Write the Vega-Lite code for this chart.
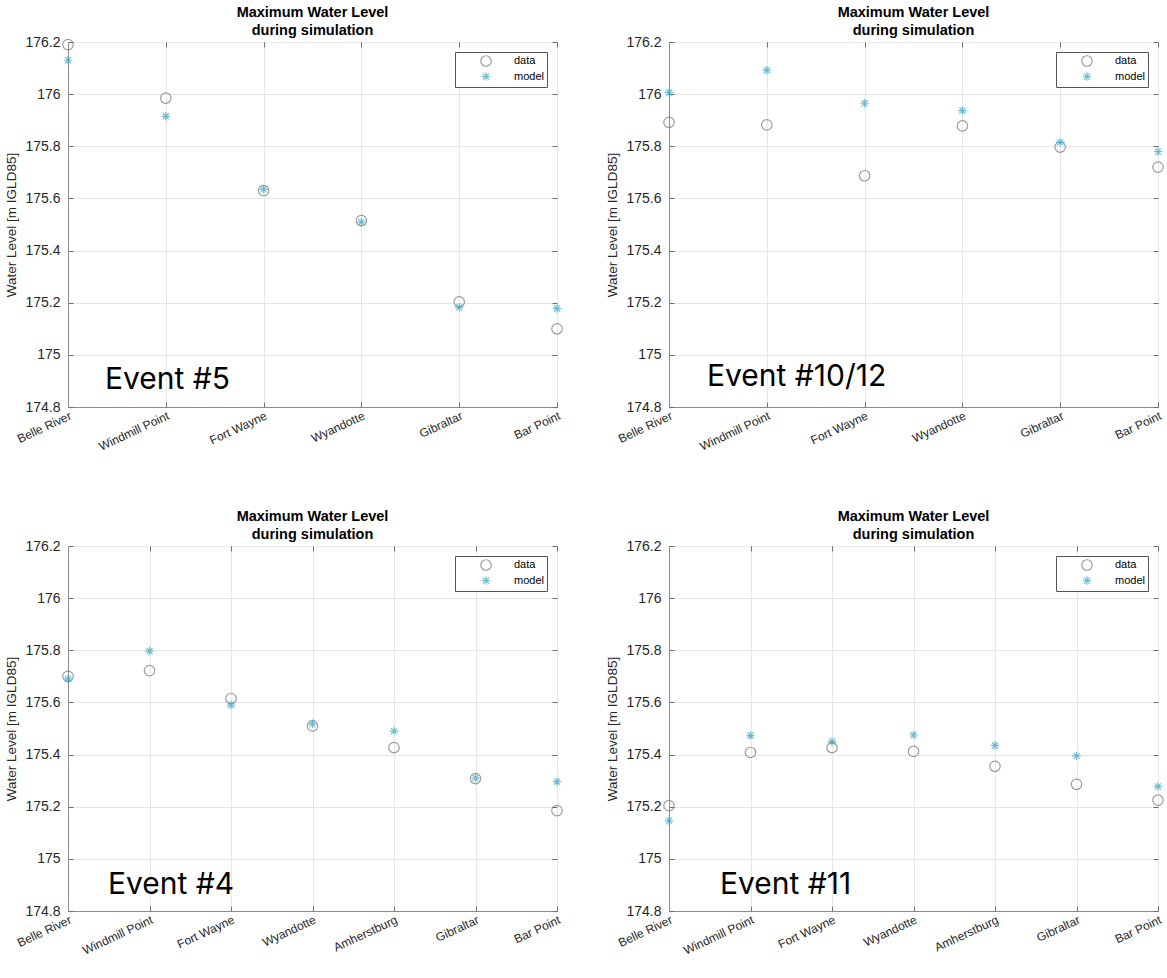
{
  "$schema": "https://vega.github.io/schema/vega-lite/v6.json",
  "padding": {"left": 4, "top": 4, "right": 2, "bottom": 2},
  "background": "white",
  "datasets": {
    "levels": [
      {"event": "5", "station": "Belle River", "series": "data", "level": 176.19},
      {"event": "5", "station": "Windmill Point", "series": "data", "level": 175.985},
      {"event": "5", "station": "Fort Wayne", "series": "data", "level": 175.63},
      {"event": "5", "station": "Wyandotte", "series": "data", "level": 175.515},
      {"event": "5", "station": "Gibraltar", "series": "data", "level": 175.203},
      {"event": "5", "station": "Bar Point", "series": "data", "level": 175.1},
      {"event": "5", "station": "Belle River", "series": "model", "level": 176.13},
      {"event": "5", "station": "Windmill Point", "series": "model", "level": 175.915},
      {"event": "5", "station": "Fort Wayne", "series": "model", "level": 175.635},
      {"event": "5", "station": "Wyandotte", "series": "model", "level": 175.51},
      {"event": "5", "station": "Gibraltar", "series": "model", "level": 175.183},
      {"event": "5", "station": "Bar Point", "series": "model", "level": 175.178},
      {"event": "10/12", "station": "Belle River", "series": "data", "level": 175.892},
      {"event": "10/12", "station": "Windmill Point", "series": "data", "level": 175.882},
      {"event": "10/12", "station": "Fort Wayne", "series": "data", "level": 175.687},
      {"event": "10/12", "station": "Wyandotte", "series": "data", "level": 175.878},
      {"event": "10/12", "station": "Gibraltar", "series": "data", "level": 175.797},
      {"event": "10/12", "station": "Bar Point", "series": "data", "level": 175.72},
      {"event": "10/12", "station": "Belle River", "series": "model", "level": 176.006},
      {"event": "10/12", "station": "Windmill Point", "series": "model", "level": 176.092},
      {"event": "10/12", "station": "Fort Wayne", "series": "model", "level": 175.965},
      {"event": "10/12", "station": "Wyandotte", "series": "model", "level": 175.937},
      {"event": "10/12", "station": "Gibraltar", "series": "model", "level": 175.815},
      {"event": "10/12", "station": "Bar Point", "series": "model", "level": 175.78},
      {"event": "4", "station": "Belle River", "series": "data", "level": 175.7},
      {"event": "4", "station": "Windmill Point", "series": "data", "level": 175.722},
      {"event": "4", "station": "Fort Wayne", "series": "data", "level": 175.615},
      {"event": "4", "station": "Wyandotte", "series": "data", "level": 175.51},
      {"event": "4", "station": "Amherstburg", "series": "data", "level": 175.427},
      {"event": "4", "station": "Gibraltar", "series": "data", "level": 175.308},
      {"event": "4", "station": "Bar Point", "series": "data", "level": 175.185},
      {"event": "4", "station": "Belle River", "series": "model", "level": 175.69},
      {"event": "4", "station": "Windmill Point", "series": "model", "level": 175.797},
      {"event": "4", "station": "Fort Wayne", "series": "model", "level": 175.59},
      {"event": "4", "station": "Wyandotte", "series": "model", "level": 175.518},
      {"event": "4", "station": "Amherstburg", "series": "model", "level": 175.49},
      {"event": "4", "station": "Gibraltar", "series": "model", "level": 175.31},
      {"event": "4", "station": "Bar Point", "series": "model", "level": 175.296},
      {"event": "11", "station": "Belle River", "series": "data", "level": 175.204},
      {"event": "11", "station": "Windmill Point", "series": "data", "level": 175.408},
      {"event": "11", "station": "Fort Wayne", "series": "data", "level": 175.427},
      {"event": "11", "station": "Wyandotte", "series": "data", "level": 175.412},
      {"event": "11", "station": "Amherstburg", "series": "data", "level": 175.355},
      {"event": "11", "station": "Gibraltar", "series": "data", "level": 175.286},
      {"event": "11", "station": "Bar Point", "series": "data", "level": 175.225},
      {"event": "11", "station": "Belle River", "series": "model", "level": 175.146},
      {"event": "11", "station": "Windmill Point", "series": "model", "level": 175.473},
      {"event": "11", "station": "Fort Wayne", "series": "model", "level": 175.45},
      {"event": "11", "station": "Wyandotte", "series": "model", "level": 175.475},
      {"event": "11", "station": "Amherstburg", "series": "model", "level": 175.435},
      {"event": "11", "station": "Gibraltar", "series": "model", "level": 175.395},
      {"event": "11", "station": "Bar Point", "series": "model", "level": 175.278}
    ],
    "labels": [
      {"event": "5", "station": "Belle River", "level": 174.902, "text": "Event #5"},
      {"event": "10/12", "station": "Belle River", "level": 174.916, "text": "Event #10/12"},
      {"event": "4", "station": "Belle River", "level": 174.9, "text": "Event #4"},
      {"event": "11", "station": "Belle River", "level": 174.9, "text": "Event #11"}
    ]
  },
  "columns": 2,
  "spacing": {"row": 55, "column": 39},
  "resolve": {
    "scale": {"x": "independent", "y": "independent", "color": "independent", "shape": "independent", "size": "independent"},
    "legend": {"color": "independent", "shape": "independent", "size": "independent"}
  },
  "concat": [
    {
      "width": 489, "height": 365,
      "title": {"text": ["Maximum Water Level", "during simulation"]},
      "resolve": {"axis": {"x": "independent", "y": "independent"}},
      "layer": [
        {
          "data": {"name": "levels"},
          "transform": [{"filter": "datum.event == '5'"}],
          "mark": {"type": "point", "filled": false, "clip": false, "strokeWidth": 1.2},
          "encoding": {
            "x": {"field": "station", "type": "nominal", "sort": null, "title": null,
                  "scale": {"type": "point", "padding": 0, "domain": ["Belle River", "Windmill Point", "Fort Wayne", "Wyandotte", "Gibraltar", "Bar Point"]}},
            "y": {"field": "level", "type": "quantitative", "title": "Water Level [m IGLD85]",
                  "axis": {"values": [174.8, 175, 175.2, 175.4, 175.6, 175.8, 176, 176.2], "format": "~f"},
                  "scale": {"domain": [174.8, 176.2], "nice": false, "zero": false}},
            "color": {"field": "series", "type": "nominal", "legend": {"title": null},
                      "scale": {"domain": ["data", "model"], "range": ["#747474", "#35a5c5"]}},
            "shape": {"field": "series", "type": "nominal", "legend": {"title": null},
                      "scale": {"domain": ["data", "model"], "range": ["circle", "M-1,0L1,0M0,-1L0,1M-0.72,-0.72L0.72,0.72M-0.72,0.72L0.72,-0.72"]}},
            "size": {"field": "series", "type": "nominal", "legend": null,
                     "scale": {"domain": ["data", "model"], "range": [110, 72]}}
          }
        },
        {
          "data": {"name": "labels"},
          "transform": [{"filter": "datum.event == '5'"}],
          "mark": {"type": "text", "align": "left", "baseline": "middle", "dx": 37, "font": "Inter", "fontSize": 30, "color": "#000"},
          "encoding": {
            "x": {"field": "station", "type": "nominal",
                  "axis": {"orient": "top", "labels": false, "grid": false, "domain": false, "title": null}},
            "y": {"field": "level", "type": "quantitative",
                  "axis": {"orient": "right", "labels": false, "grid": false, "domain": false, "title": null, "values": [174.8, 175, 175.2, 175.4, 175.6, 175.8, 176, 176.2]}},
            "text": {"field": "text"}
          }
        }
      ]
    },
    {
      "width": 489, "height": 365,
      "title": {"text": ["Maximum Water Level", "during simulation"]},
      "resolve": {"axis": {"x": "independent", "y": "independent"}},
      "layer": [
        {
          "data": {"name": "levels"},
          "transform": [{"filter": "datum.event == '10/12'"}],
          "mark": {"type": "point", "filled": false, "clip": false, "strokeWidth": 1.2},
          "encoding": {
            "x": {"field": "station", "type": "nominal", "sort": null, "title": null,
                  "scale": {"type": "point", "padding": 0, "domain": ["Belle River", "Windmill Point", "Fort Wayne", "Wyandotte", "Gibraltar", "Bar Point"]}},
            "y": {"field": "level", "type": "quantitative", "title": "Water Level [m IGLD85]",
                  "axis": {"values": [174.8, 175, 175.2, 175.4, 175.6, 175.8, 176, 176.2], "format": "~f"},
                  "scale": {"domain": [174.8, 176.2], "nice": false, "zero": false}},
            "color": {"field": "series", "type": "nominal", "legend": {"title": null},
                      "scale": {"domain": ["data", "model"], "range": ["#747474", "#35a5c5"]}},
            "shape": {"field": "series", "type": "nominal", "legend": {"title": null},
                      "scale": {"domain": ["data", "model"], "range": ["circle", "M-1,0L1,0M0,-1L0,1M-0.72,-0.72L0.72,0.72M-0.72,0.72L0.72,-0.72"]}},
            "size": {"field": "series", "type": "nominal", "legend": null,
                     "scale": {"domain": ["data", "model"], "range": [110, 72]}}
          }
        },
        {
          "data": {"name": "labels"},
          "transform": [{"filter": "datum.event == '10/12'"}],
          "mark": {"type": "text", "align": "left", "baseline": "middle", "dx": 38, "font": "Inter", "fontSize": 30, "color": "#000"},
          "encoding": {
            "x": {"field": "station", "type": "nominal",
                  "axis": {"orient": "top", "labels": false, "grid": false, "domain": false, "title": null}},
            "y": {"field": "level", "type": "quantitative",
                  "axis": {"orient": "right", "labels": false, "grid": false, "domain": false, "title": null, "values": [174.8, 175, 175.2, 175.4, 175.6, 175.8, 176, 176.2]}},
            "text": {"field": "text"}
          }
        }
      ]
    },
    {
      "width": 489, "height": 365,
      "title": {"text": ["Maximum Water Level", "during simulation"]},
      "resolve": {"axis": {"x": "independent", "y": "independent"}},
      "layer": [
        {
          "data": {"name": "levels"},
          "transform": [{"filter": "datum.event == '4'"}],
          "mark": {"type": "point", "filled": false, "clip": false, "strokeWidth": 1.2},
          "encoding": {
            "x": {"field": "station", "type": "nominal", "sort": null, "title": null,
                  "scale": {"type": "point", "padding": 0, "domain": ["Belle River", "Windmill Point", "Fort Wayne", "Wyandotte", "Amherstburg", "Gibraltar", "Bar Point"]}},
            "y": {"field": "level", "type": "quantitative", "title": "Water Level [m IGLD85]",
                  "axis": {"values": [174.8, 175, 175.2, 175.4, 175.6, 175.8, 176, 176.2], "format": "~f"},
                  "scale": {"domain": [174.8, 176.2], "nice": false, "zero": false}},
            "color": {"field": "series", "type": "nominal", "legend": {"title": null},
                      "scale": {"domain": ["data", "model"], "range": ["#747474", "#35a5c5"]}},
            "shape": {"field": "series", "type": "nominal", "legend": {"title": null},
                      "scale": {"domain": ["data", "model"], "range": ["circle", "M-1,0L1,0M0,-1L0,1M-0.72,-0.72L0.72,0.72M-0.72,0.72L0.72,-0.72"]}},
            "size": {"field": "series", "type": "nominal", "legend": null,
                     "scale": {"domain": ["data", "model"], "range": [110, 72]}}
          }
        },
        {
          "data": {"name": "labels"},
          "transform": [{"filter": "datum.event == '4'"}],
          "mark": {"type": "text", "align": "left", "baseline": "middle", "dx": 40, "font": "Inter", "fontSize": 30, "color": "#000"},
          "encoding": {
            "x": {"field": "station", "type": "nominal",
                  "axis": {"orient": "top", "labels": false, "grid": false, "domain": false, "title": null}},
            "y": {"field": "level", "type": "quantitative",
                  "axis": {"orient": "right", "labels": false, "grid": false, "domain": false, "title": null, "values": [174.8, 175, 175.2, 175.4, 175.6, 175.8, 176, 176.2]}},
            "text": {"field": "text"}
          }
        }
      ]
    },
    {
      "width": 489, "height": 365,
      "title": {"text": ["Maximum Water Level", "during simulation"]},
      "resolve": {"axis": {"x": "independent", "y": "independent"}},
      "layer": [
        {
          "data": {"name": "levels"},
          "transform": [{"filter": "datum.event == '11'"}],
          "mark": {"type": "point", "filled": false, "clip": false, "strokeWidth": 1.2},
          "encoding": {
            "x": {"field": "station", "type": "nominal", "sort": null, "title": null,
                  "scale": {"type": "point", "padding": 0, "domain": ["Belle River", "Windmill Point", "Fort Wayne", "Wyandotte", "Amherstburg", "Gibraltar", "Bar Point"]}},
            "y": {"field": "level", "type": "quantitative", "title": "Water Level [m IGLD85]",
                  "axis": {"values": [174.8, 175, 175.2, 175.4, 175.6, 175.8, 176, 176.2], "format": "~f"},
                  "scale": {"domain": [174.8, 176.2], "nice": false, "zero": false}},
            "color": {"field": "series", "type": "nominal", "legend": {"title": null},
                      "scale": {"domain": ["data", "model"], "range": ["#747474", "#35a5c5"]}},
            "shape": {"field": "series", "type": "nominal", "legend": {"title": null},
                      "scale": {"domain": ["data", "model"], "range": ["circle", "M-1,0L1,0M0,-1L0,1M-0.72,-0.72L0.72,0.72M-0.72,0.72L0.72,-0.72"]}},
            "size": {"field": "series", "type": "nominal", "legend": null,
                     "scale": {"domain": ["data", "model"], "range": [110, 72]}}
          }
        },
        {
          "data": {"name": "labels"},
          "transform": [{"filter": "datum.event == '11'"}],
          "mark": {"type": "text", "align": "left", "baseline": "middle", "dx": 51, "font": "Inter", "fontSize": 30, "color": "#000"},
          "encoding": {
            "x": {"field": "station", "type": "nominal",
                  "axis": {"orient": "top", "labels": false, "grid": false, "domain": false, "title": null}},
            "y": {"field": "level", "type": "quantitative",
                  "axis": {"orient": "right", "labels": false, "grid": false, "domain": false, "title": null, "values": [174.8, 175, 175.2, 175.4, 175.6, 175.8, 176, 176.2]}},
            "text": {"field": "text"}
          }
        }
      ]
    }
  ],
  "config": {
    "view": {"stroke": "#8c8c8c", "strokeWidth": 1},
    "title": {"font": "Liberation Sans", "fontSize": 14.5, "fontWeight": "bold", "color": "#000", "anchor": "middle", "offset": -3, "lineHeight": 18},
    "axis": {
      "labelFont": "Liberation Sans", "titleFont": "Liberation Sans",
      "labelColor": "#262626", "titleColor": "#262626",
      "titleFontWeight": "normal",
      "gridColor": "#e6e6e6", "domainColor": "#8c8c8c", "tickColor": "#6e6e6e",
      "tickSize": -5, "labelOverlap": false
    },
    "axisY": {"labelFontSize": 14, "labelPadding": 13, "titleFontSize": 13.5, "titlePadding": 6},
    "axisX": {"labelAngle": -25, "labelFontSize": 12, "labelPadding": 8, "grid": true},
    "legend": {
      "orient": "top-right", "offset": 10,
      "strokeColor": "#555", "fillColor": "white", "padding": 3,
      "labelFont": "Liberation Sans", "labelFontSize": 11, "labelColor": "#000",
      "symbolOffset": 22, "labelOffset": 22, "rowPadding": 0,
      "symbolSize": 60, "symbolStrokeWidth": 1.2, "cornerRadius": 0
    }
  }
}
